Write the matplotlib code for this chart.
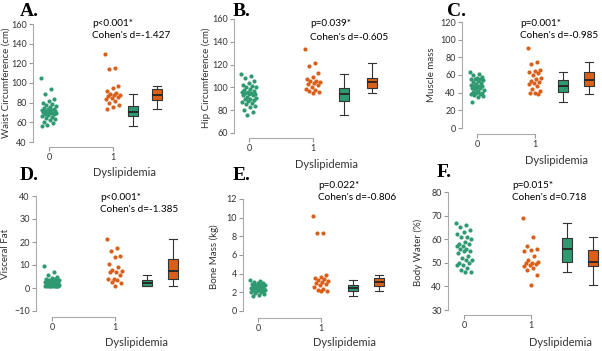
import numpy as np
import matplotlib
matplotlib.use("Agg")
import matplotlib.pyplot as plt

plt.rcParams['font.family'] = ['Lato', 'DejaVu Sans']

W, H = 602, 351
green = '#2f9a72'
orange = '#d9601a'

# ---- data ----
waist_0 = [105, 94, 89, 84, 82, 80, 79, 78, 77, 76, 75, 74, 74, 73, 73, 72, 72, 71, 71,
           70, 70, 69, 69, 68, 68, 67, 66, 65, 64, 63, 62, 60, 59, 57, 56]
waist_1 = [130, 115, 114, 97, 95, 92, 90, 89, 88, 88, 87, 86, 85, 84, 82, 80, 78, 76, 74]

hip_0 = [112, 110, 108, 106, 104, 102, 101, 100, 100, 99, 98, 97, 96, 96, 95, 95, 94, 94,
         93, 93, 92, 91, 90, 90, 89, 88, 87, 86, 85, 84, 83, 80, 78, 76]
hip_1 = [134, 121, 119, 113, 109, 107, 106, 106, 105, 104, 103, 102, 100, 99, 98, 97, 96, 95]

muscle_0 = [63, 61, 60, 58, 57, 56, 55, 55, 54, 53, 52, 51, 50, 49, 48, 47, 47, 46, 45, 45,
            44, 43, 42, 41, 40, 40, 39, 38, 37, 36, 35, 30]
muscle_1 = [91, 75, 73, 66, 64, 63, 62, 60, 57, 55, 53, 52, 51, 50, 48, 44, 42, 40, 40, 39]

visceral_0 = [9.5, 7, 5.5, 5, 4.5, 4, 4, 3.5, 3.5, 3, 3, 3, 2.5, 2.5, 2.5, 2, 2, 2, 2, 2,
              1.5, 1.5, 1.5, 1.5, 1, 1, 1, 1, 1, 1, 1, 1, 1, 1]
visceral_1 = [21.5, 17.5, 16, 14, 13.5, 10.5, 9, 8, 7.5, 7, 7, 5.5, 4, 4, 3.5, 2.5, 2, 1]

bone_0 = [3.3, 3.2, 3.1, 3.0, 3.0, 2.9, 2.9, 2.8, 2.8, 2.7, 2.7, 2.6, 2.6, 2.5, 2.5, 2.5,
          2.4, 2.4, 2.4, 2.3, 2.3, 2.2, 2.2, 2.2, 2.1, 2.1, 2.0, 2.0, 1.9, 1.8, 1.7, 1.6]
bone_1 = [10.2, 8.4, 8.4, 3.9, 3.6, 3.5, 3.4, 3.3, 3.2, 3.1, 3.0, 2.9, 2.8, 2.6, 2.4, 2.2, 2.1, 2.1]

water_0 = [67, 66, 65, 64, 63, 62, 61, 61, 60, 59, 58, 58, 57, 57, 56, 56, 55, 55, 54, 53,
           52, 51, 51, 50, 50, 49, 49, 48, 47, 46, 46]
water_1 = [69, 61, 57, 56, 55.5, 55, 53, 51, 50.5, 50, 50, 49.5, 49, 48.5, 48, 47, 45, 40.5]

letters = ['A.', 'B.', 'C.', 'D.', 'E.', 'F.']
ylabels = ['Waist Circumference (cm)', 'Hip Circumference (cm)', 'Muscle mass',
           'Visceral Fat', 'Bone Mass (kg)', 'Body Water (%)']
pvals = ['p<0.001*', 'p=0.039*', 'p=0.001*', 'p<0.001*', 'p=0.022*', 'p=0.015*']
cohen = ["Cohen's d=-1.427", "Cohen's d=-0.605", "Cohen's d=-0.985",
         "Cohen's d=-1.385", "Cohen's d=-0.806", "Cohen's d=0.718"]
yticks = [[40, 60, 80, 100, 120, 140, 160],
          [60, 80, 100, 120, 140, 160],
          [0, 20, 40, 60, 80, 100, 120],
          [-10, 0, 10, 20, 30, 40],
          [0, 2, 4, 6, 8, 10, 12],
          [30, 40, 50, 60, 70, 80]]
groups = [(waist_0, waist_1), (hip_0, hip_1), (muscle_0, muscle_1),
          (visceral_0, visceral_1), (bone_0, bone_1), (water_0, water_1)]

# ---- layout in pixels: spine x, tick0 x, tick1 x, top tick y, bottom tick y,
#      x-axis y, right edge, box positions (data units)
layout = [
    dict(sx=33, t0=49, t1=113, yt=24, yb=142, xa=147, r=172, box=(1.31, 1.69),
         let=(20, 11), ann=(92, 23), xl=(125, 172), yl=(6, 83)),
    dict(sx=234, t0=249, t1=313, yt=19, yb=133, xa=138, r=385, box=(1.48, 1.92),
         let=(233, 11), ann=(310, 24), xl=(327, 165), yl=(206, 78)),
    dict(sx=462, t0=477, t1=535, yt=22, yb=128, xa=134, r=600, box=(1.48, 1.93),
         let=(447, 11), ann=(520, 23), xl=(556, 160), yl=(432, 75)),
    dict(sx=36, t0=52, t1=115, yt=196, yb=311, xa=317, r=185, box=(1.5, 1.92),
         let=(20, 176), ann=(100, 197), xl=(137, 343), yl=(6, 254)),
    dict(sx=243, t0=258, t1=321, yt=199, yb=311, xa=318, r=392, box=(1.5, 1.92),
         let=(233, 175), ann=(318, 185), xl=(344, 343), yl=(214, 257)),
    dict(sx=448, t0=464, t1=531, yt=192, yb=310, xa=315, r=600, box=(1.54, 1.92),
         let=(437, 173), ann=(512, 185), xl=(560, 343), yl=(418, 252)),
]

fig = plt.figure(figsize=(W / 100, H / 100), dpi=100)


def fx(x):
    return x / W


def fy(y):
    return 1 - y / H


for i in range(6):
    L = layout[i]
    g0, g1 = groups[i]
    yt = yticks[i]
    top = L['yt'] - 4
    ax = fig.add_axes([fx(L['sx']), fy(L['xa']), fx(L['r'] - L['sx']), (L['xa'] - top) / H])
    ppu = L['t1'] - L['t0']
    vpp = (yt[-1] - yt[0]) / (L['yb'] - L['yt'])
    ax.set_xlim((L['sx'] - L['t0']) / ppu, (L['r'] - L['t0']) / ppu)
    ax.set_ylim(yt[0] - (L['xa'] - L['yb']) * vpp, yt[-1] + (L['yt'] - top) * vpp)

    # jittered points
    for k, (vals, col) in enumerate([(g0, green), (g1, orange)]):
        n = len(vals)
        jit = (((np.arange(n) * 0.618) % 1.0) - 0.5) * 0.24
        ax.scatter(k + jit, vals, s=9, color=col, linewidths=0, zorder=3)

    # boxplots
    bw = 10 / ppu
    bp = ax.boxplot([g0, g1], positions=list(L['box']), widths=bw, patch_artist=True,
                    showfliers=False, whis=1.5, manage_ticks=False,
                    medianprops=dict(color='#222222', lw=1.3),
                    whiskerprops=dict(color='#333333', lw=0.8),
                    capprops=dict(color='#333333', lw=0.8),
                    boxprops=dict(edgecolor='#333333', lw=0.8))
    for patch, col in zip(bp['boxes'], [green, orange]):
        patch.set_facecolor(col)
    for cap in bp['caps']:
        xd = cap.get_xdata()
        c = (xd[0] + xd[1]) / 2
        cap.set_xdata([c - bw * 0.4, c + bw * 0.4])

    for s in ['top', 'right']:
        ax.spines[s].set_visible(False)
    for s in ['left', 'bottom']:
        ax.spines[s].set_color('#aaaaaa')
        ax.spines[s].set_linewidth(0.8)
    ax.spines['left'].set_bounds(yt[0], yt[-1])
    ax.spines['bottom'].set_bounds(0, 1)
    ax.set_yticks(yt)
    ax.set_xticks([0, 1])
    ax.set_xticklabels(['0', '1'])
    ax.tick_params(colors='#999999', labelcolor='#333333', labelsize=6.5, length=3, width=0.8,
                   pad=1.5)
    ax.patch.set_alpha(0)

    fig.text(fx(L['let'][0]), fy(L['let'][1]), letters[i], family='Liberation Serif',
             fontweight='bold', fontsize=14, va='center', ha='left')
    fig.text(fx(L['ann'][0]), fy(L['ann'][1]), pvals[i], fontsize=7.2, va='center', ha='left')
    fig.text(fx(L['ann'][0]), fy(L['ann'][1] + 13), cohen[i], fontsize=7.2, va='center', ha='left')
    fig.text(fx(L['xl'][0]), fy(L['xl'][1]), 'Dyslipidemia', fontsize=8, va='center', ha='center',
             color='#333333')
    fig.text(fx(L['yl'][0]), fy(L['yl'][1]), ylabels[i], fontsize=7, va='center', ha='center',
             rotation=90, color='#333333')

fig.savefig('out.png', dpi=100)
